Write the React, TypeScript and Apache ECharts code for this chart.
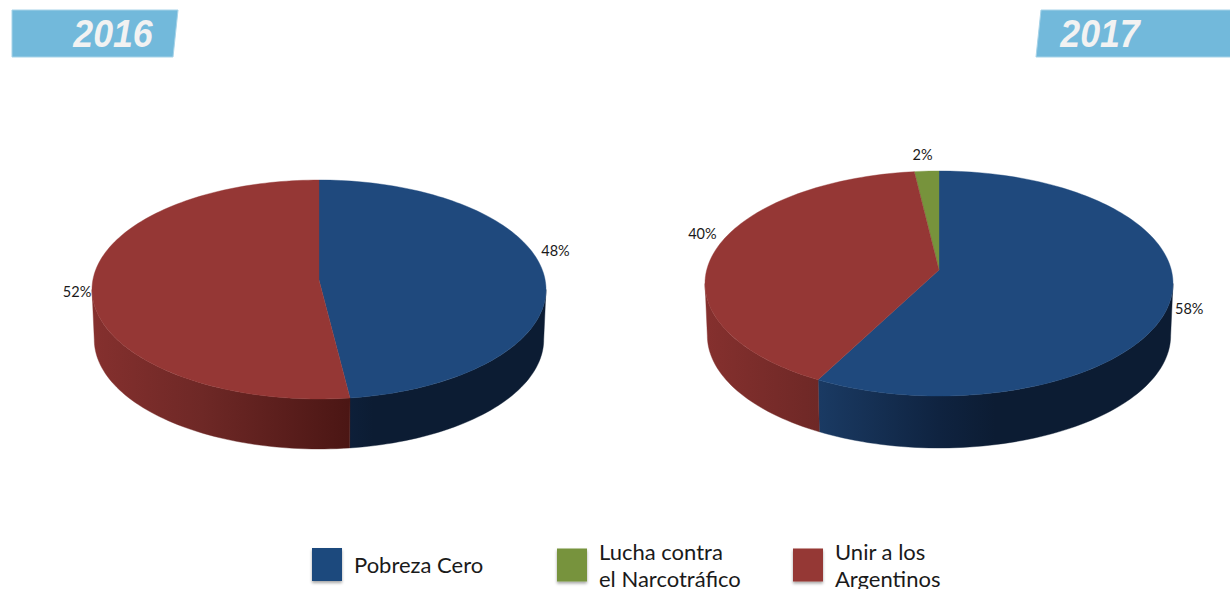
import React, { useEffect, useRef } from "react";
import * as echarts from "echarts";

// ---- data ----
const years = ["2016", "2017"];
const categories = ["Pobreza Cero", "Lucha contra\nel Narcotráfico", "Unir a los\nArgentinos"];
const pobrezaCero = [48, 57.7];
const luchaNarcotrafico = [0, 1.9];
const unirArgentinos = [52, 40.4];
const seriesValues = [pobrezaCero, luchaNarcotrafico, unirArgentinos];
// clockwise order of the slices from twelve o'clock
const sliceOrder = [0, 2, 1];

// ---- layout & style ----
const topColors = ["#1F497D", "#77933C", "#953735"];
const wallStops = [
  [[0, "#1F4478"], [0.244, "#1A3A63"], [0.5, "#0F2340"], [0.62, "#0C1C33"], [1, "#0C1C33"]],
  [[0, "#5F7530"], [0.5, "#3A4A1C"], [1, "#2A3614"]],
  [[0, "#85302E"], [0.244, "#6E2826"], [0.566, "#4B1614"], [1, "#3E1210"]],
];
// apex = projected centre of the disc; rx = half width; up/down = apex to the back/front rim
const pies = [
  { cx: 319, cy: 280, rx: 227, up: 100, down: 119, depth: 50 },
  { cx: 939, cy: 270, rx: 234, up: 99, down: 126, depth: 52 },
];
// label offset from the rim at the slice's mid angle, [year][category]
const labelOffsets = [
  [[12, -23], [0, 0], [-15, 5]],
  [[18, 11], [-4, -17], [-13, -17]],
];
const labelFont = "14.5px Lato, 'Open Sans', sans-serif";

function project(pie: any, theta: number) {
  const a = (2 * pie.down * pie.up) / (pie.down + pie.up);
  const p = 1 - a / pie.down;
  const b = pie.rx * Math.sqrt(1 - p * p);
  const u = Math.sin(theta);
  const v = -Math.cos(theta);
  const d = 1 - p * v;
  return [pie.cx + (b * u) / d, pie.cy + (a * v) / d];
}

function frontRange(pie: any) {
  const a = (2 * pie.down * pie.up) / (pie.down + pie.up);
  const p = 1 - a / pie.down;
  const t = Math.acos(-p);
  return [t, 2 * Math.PI - t];
}

function arcAngles(a0: number, a1: number) {
  const n = Math.max(2, Math.ceil(((a1 - a0) / (2 * Math.PI)) * 240));
  const out: number[] = [];
  for (let i = 0; i <= n; i++) out.push(a0 + ((a1 - a0) * i) / n);
  return out;
}

function makeRenderItem(catIndex: number) {
  return (params: any, api: any) => {
    const yearIndex = api.value(0);
    const value = api.value(1);
    if (!value) return { type: "group", children: [] };
    const pie = pies[yearIndex];
    const total = seriesValues.reduce((s, arr) => s + arr[yearIndex], 0);
    let before = 0;
    for (const c of sliceOrder) {
      if (c === catIndex) break;
      before += seriesValues[c][yearIndex];
    }
    const a0 = (before / total) * 2 * Math.PI;
    const a1 = ((before + value) / total) * 2 * Math.PI;

    const children: any[] = [];
    const [f0, f1] = frontRange(pie);
    const w0 = Math.max(a0, f0);
    const w1 = Math.min(a1, f1);
    if (w1 > w0) {
      const rim = arcAngles(w0, w1).map((t) => project(pie, t));
      const bottom = rim
        .map(([x, y]) => [pie.cx + (x - pie.cx) * 0.99, y + pie.depth])
        .reverse();
      const fill = new echarts.graphic.LinearGradient(
        pie.cx - pie.rx, 0, pie.cx + pie.rx, 0,
        wallStops[catIndex].map(([offset, color]) => ({ offset, color })) as any,
        true
      );
      children.push({
        type: "polygon",
        shape: { points: rim.concat(bottom) },
        style: { fill, stroke: fill, lineWidth: 0.4 },
      });
    }
    const top = [[pie.cx, pie.cy], ...arcAngles(a0, a1).map((t) => project(pie, t))];
    children.push({
      type: "polygon",
      shape: { points: top },
      style: { fill: topColors[catIndex], stroke: topColors[catIndex], lineWidth: 0.4 },
    });
    const mid = project(pie, (a0 + a1) / 2);
    const off = labelOffsets[yearIndex][catIndex];
    children.push({
      type: "text",
      x: mid[0] + off[0],
      y: mid[1] + off[1],
      z2: 10,
      style: {
        text: `${Math.round(value)}%`,
        font: labelFont,
        fill: "#1a1a1a",
        align: "center",
        verticalAlign: "middle",
      },
    });
    return { type: "group", children };
  };
}

function banner(points: number[][], text: string, x: number) {
  return {
    type: "group",
    children: [
      {
        type: "polygon",
        shape: { points },
        style: { fill: "#72B9DB", stroke: "#A6D3E8", lineWidth: 1 },
      },
      {
        type: "text",
        x,
        y: 34.5,
        scaleX: 0.94,
        style: {
          text,
          font: "italic bold 38px 'Liberation Sans', Arial, sans-serif",
          fill: "#F2F2F2",
          align: "center",
          verticalAlign: "middle",
        },
      },
    ],
  };
}

const legendLefts = [312, 557, 793];
const legendTops = [548, 536, 536];

export default function App() {
  const ref = useRef<HTMLDivElement>(null);
  useEffect(() => {
    const chart = echarts.init(ref.current!, undefined, { renderer: "svg" });
    chart.setOption({
      animation: false,
      backgroundColor: "#ffffff",
      color: topColors,
      legend: categories.map((name, i) => ({
        data: [name],
        left: legendLefts[i],
        top: legendTops[i],
        padding: 0,
        orient: "horizontal",
        icon: "rect",
        itemWidth: 30,
        itemHeight: 33,
        itemGap: 0,
        selectedMode: false,
        itemStyle: {
          shadowBlur: 3,
          shadowOffsetY: 2,
          shadowColor: "rgba(0,0,0,0.35)",
        },
        textStyle: {
          fontFamily: "Lato, 'Open Sans', sans-serif",
          fontSize: 22,
          lineHeight: 27,
          color: "#1a1a1a",
          padding: i === 0 ? [0, 0, 0, 7] : [0, 0, 4, 7],
        },
      })),
      graphic: [
        banner([[12, 10], [178, 10], [173, 57], [12, 57]], years[0], 113),
        banner([[1041, 10], [1231, 10], [1231, 57], [1036, 57]], years[1], 1100),
      ],
      series: categories.map((name, i) => ({
        type: "custom",
        name,
        coordinateSystem: "none",
        itemStyle: { color: topColors[i] },
        data: years.map((_, y) => [y, seriesValues[i][y]]),
        renderItem: makeRenderItem(i),
      })),
    });
    return () => chart.dispose();
  }, []);
  return <div ref={ref} style={{ position: "absolute", left: 0, top: 0, width: 1230, height: 589 }} />;
}
